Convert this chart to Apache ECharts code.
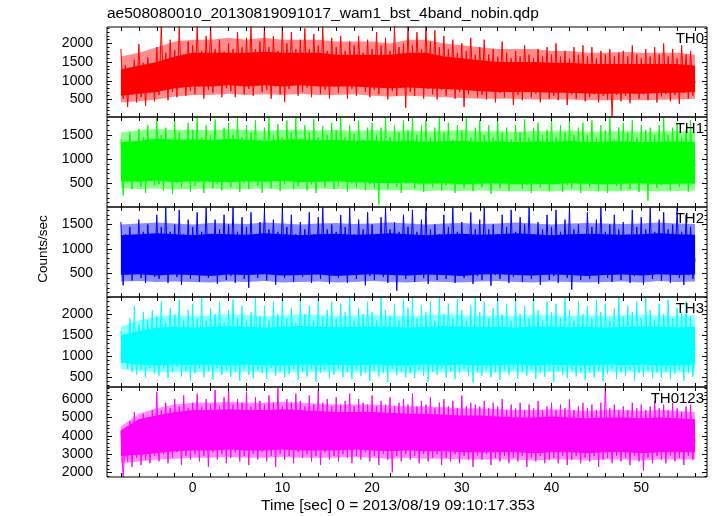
<!DOCTYPE html>
<html><head><meta charset="utf-8">
<script src="https://cdn.jsdelivr.net/npm/echarts@6/dist/echarts.min.js"></script>
<style>html,body{margin:0;padding:0;background:#fff}#c{width:717px;height:516px}</style>
</head><body><div id="c"></div>
<script>
const titleText = 'ae508080010_20130819091017_wam1_bst_4band_nobin.qdp';
const xTitle = 'Time [sec] 0 = 2013/08/19 09:10:17.353';
const yTitle = 'Counts/sec';
const panelNames = ['TH0', 'TH1', 'TH2', 'TH3', 'TH0123'];
const panelColors = ['#ff0000', '#00ff00', '#0000ff', '#00ffff', '#ff00ff'];
const tStart = -8.0;
const binSize = 0.25;
const bandStep = 2.0;
const xMin = -9.55, xMax = 57.33;
const xTickValues = [-8,-6,-4,-2,0,2,4,6,8,10,12,14,16,18,20,22,24,26,28,30,32,34,36,38,40,42,44,46,48,50,52,54,56];
const xLabelValues = [0, 10, 20, 30, 40, 50];
const yRanges = [[30, 2440], [10, 1870], [10, 1860], [270, 2410], [1750, 6660]];
const yMajorTicks = [[500,1000,1500,2000],[500,1000,1500],[500,1000,1500],[500,1000,1500,2000],[2000,3000,4000,5000,6000]];
const yMinorStep = [100, 100, 100, 100, 200];

// light-curve samples (counts/sec), one every binSize seconds from tStart
const th0 = [
1850,520,1420,300,1350,640,1560,420,1980,560,1480,330,1620,700,1400,450,
1900,620,2450,780,1750,480,2100,700,1820,560,2450,820,1700,600,2050,720,
1950,650,2450,850,1800,520,2200,760,2450,680,1850,900,2100,560,1780,800,
2000,720,1850,560,2300,880,1900,640,2150,780,2450,600,1850,900,2050,700,
2450,760,1900,520,2200,850,1800,640,2450,430,2000,780,2300,900,1850,600,
2100,700,2400,820,1850,560,2250,880,1950,650,2450,760,1800,520,2150,840,
1900,680,2200,860,1800,520,2050,780,1950,600,2200,900,1750,700,2100,560,
1850,760,2300,640,1950,850,2150,500,1800,720,2450,600,1900,820,2000,280,
2450,700,1950,600,2300,850,1850,520,2450,780,2050,640,2350,500,1900,760,
2200,600,1850,780,2100,520,1750,700,2000,300,1800,640,2150,760,1700,560,
1900,620,2100,500,1700,740,1850,420,1650,680,2050,560,1750,700,1600,350,
1800,620,1650,480,1950,700,1700,560,1600,660,1850,420,1650,720,1900,520,
1700,600,2000,480,1650,700,1800,350,1600,640,1900,520,1700,680,1950,450,
1650,560,1900,640,1600,420,1800,600,1700,500,1850,40,1650,620,1750,450,
1800,600,1650,400,1950,660,1700,520,1600,640,1850,480,1650,700,1900,420,
1700,580,2000,650,1650,450,1850,620,1600,380,1950,680,1700,520,1800,600,
1000];
const th1 = [
1420,250,1300,520,1550,380,1350,600,1620,420,1450,300,1700,550,1400,450,
1850,480,1500,350,1650,560,1400,280,1800,500,1550,420,1380,600,1750,330,
1600,450,1850,520,1450,300,1700,580,1500,400,1820,480,1400,350,1650,560,
1750,420,1500,600,1850,320,1450,500,1700,380,1550,560,1800,450,1400,300,
1650,520,1850,400,1500,580,1720,340,1450,480,1800,560,1550,380,1850,450,
1400,600,1700,350,1550,480,1820,300,1450,560,1680,420,1500,520,1750,380,
1600,450,1850,560,1450,330,1700,500,1520,420,1800,580,1400,360,1650,480,
1750,400,1500,60,1650,520,1850,380,1450,560,1700,420,1550,300,1800,500,
1600,550,1850,400,1500,480,1700,320,1800,560,1450,420,1650,500,1850,350,
1550,460,1750,580,1400,300,1700,500,1600,400,1850,560,1450,340,1650,520,
1800,420,1500,560,1700,280,1450,500,1850,400,1550,580,1650,350,1400,480,
1700,520,1550,380,1820,460,1450,300,1650,560,1750,420,1500,500,1600,340,
1850,480,1450,560,1700,320,1550,460,1800,400,1500,580,1650,300,1750,500,
1500,420,1800,540,1450,350,1700,480,1600,300,1850,520,1400,440,1650,360,
1750,500,1550,380,1800,560,1450,320,1700,480,1600,140,1650,520,1500,400,
1700,460,1850,540,1500,360,1650,500,1750,420,1450,560,1600,330,1800,480,
900];
const th2 = [
1550,250,1300,480,1450,350,1250,560,1600,400,1350,300,1500,520,1280,420,
1700,380,1450,500,1850,300,1350,550,1500,420,1800,260,1300,500,1600,380,
1450,520,1750,320,1350,460,1850,400,1300,560,1600,280,1400,480,1700,360,
1500,440,1850,300,1350,520,1650,380,1450,200,1750,480,1300,400,1550,520,
1800,350,1400,500,1600,260,1350,460,1850,400,1450,540,1700,320,1300,480,
1550,420,1400,560,1750,300,1300,500,1650,380,1850,460,1400,280,1500,520,
1350,400,1700,520,1450,300,1850,460,1300,380,1600,540,1400,250,1750,440,
1500,360,1300,500,1650,420,1850,300,1400,480,1550,140,1350,520,1700,380,
1450,460,1800,320,1350,500,1600,400,1850,280,1400,540,1500,360,1300,460,
1700,380,1450,520,1850,300,1350,460,1550,400,1300,520,1750,280,1400,440,
1600,360,1850,500,1400,240,1500,460,1300,380,1700,520,1450,300,1800,420,
1350,500,1650,320,1500,460,1850,380,1300,540,1550,260,1400,480,1700,360,
1450,440,1800,300,1350,520,1600,400,1850,160,1400,480,1500,360,1300,520,
1750,380,1450,460,1600,280,1850,500,1350,400,1500,320,1700,540,1400,360,
1550,480,1300,300,1800,440,1450,520,1650,260,1400,460,1850,380,1350,500,
1600,340,1750,480,1400,300,1500,520,1850,400,1350,260,1700,460,1450,380,
800];
const th3 = [
1600,850,1500,700,1900,620,2200,560,1750,680,2050,500,1850,720,2100,580,
1950,540,2300,700,1800,480,2150,620,2000,760,2350,520,1850,650,2100,420,
2250,600,1900,700,2400,500,1850,640,2150,450,2000,720,2300,560,1800,680,
2100,520,2350,640,1900,420,2200,700,1850,560,2050,480,2400,660,1950,600,
2200,460,1850,720,2300,540,2000,640,2400,500,1900,580,2150,700,1800,440,
2350,620,2000,520,2200,700,1850,400,2400,600,1950,680,2100,480,2300,560,
1900,700,2250,500,2050,620,2400,460,1850,680,2150,540,2000,600,2300,420,
2050,660,1850,520,2400,600,2100,380,1950,700,2250,560,1850,640,2350,500,
2150,600,2400,480,1900,680,2200,540,2050,400,2300,640,1850,560,2400,700,
2000,500,2250,640,1900,460,2350,600,2100,700,1850,520,2200,380,2400,620,
2050,540,2300,680,1900,500,2150,620,2400,440,2000,660,2250,560,1850,700,
2350,480,2000,620,2200,540,1900,700,2400,460,2100,600,1850,520,2300,660,
2050,400,2250,640,1900,560,2400,480,2100,680,1850,520,2300,600,2000,440,
2200,620,1900,500,2350,660,2050,400,2250,580,1850,700,2150,460,2400,620,
1950,540,2200,680,2050,420,2300,600,1900,520,2400,660,2100,480,1850,620,
2250,500,2000,640,2350,460,1900,580,2150,680,2050,420,2300,600,1950,520,
1200];
const th0123 = [
4270,1750,4000,2600,4800,2300,5300,2800,4900,2400,5200,2700,5000,2500,5400,2900,
6400,2600,5400,3000,5800,2500,5500,2800,6000,3100,5600,2400,6200,2900,5500,2700,
5800,3000,6300,2600,5600,2900,6000,2300,5700,3100,6500,2700,5600,3000,6100,2500,
6600,2800,5700,3100,6000,2600,5800,2900,6400,2400,5600,3000,6100,2700,5900,3100,
5700,2600,6200,2900,5800,2300,6600,3000,5600,2700,6000,2900,5800,2500,6300,3100,
5900,2800,5600,3000,6200,2600,5700,2900,6500,2400,5800,3100,6000,2700,5600,2900,
6100,2600,5700,3000,5900,2800,6300,2500,5600,2900,6000,2700,5800,3100,5700,2600,
6200,2900,5600,2400,5900,3000,5700,2700,6100,2000,5600,2900,5800,2600,6000,3000,
5700,2700,6300,2900,5600,2500,5900,3000,5700,2600,6100,2800,5500,3000,5800,2400,
6000,2800,5600,2600,5900,3000,5500,2500,6200,2900,5600,2700,5800,2300,5700,2900,
5600,2700,5900,3000,5500,2400,5800,2800,5600,2600,6000,2900,5400,2500,5700,2800,
5500,2600,5800,2900,5400,2300,5700,2800,5500,2600,5900,2900,5400,2500,5600,2700,
5800,2800,5400,2500,5700,2900,5500,2400,6000,2700,5400,2900,5600,2500,5800,2800,
5500,2600,5700,2900,5400,2300,5800,2700,6630,2800,5500,2500,5700,2900,5400,2600,
5600,2800,5400,2400,5800,2900,5500,2600,5700,2100,5400,2800,5600,2500,5900,2900,
5500,2700,5700,2500,5400,2900,5800,2600,5500,2800,5300,2400,5600,2900,5700,2700,
3800];

// dense core of each light curve: lower / upper edge, one every bandStep seconds from tStart
const th0CoreLo = [600,650,700,800,850,850,880,850,880,850,880,850,850,850,820,800,820,800,780,760,720,700,700,700,680,680,660,650,660,650,670,680,700];
const th0CoreHi = [1300,1400,1500,1650,1750,1750,1750,1750,1780,1750,1750,1750,1700,1700,1700,1700,1750,1750,1650,1600,1550,1500,1500,1500,1480,1480,1450,1450,1450,1450,1450,1450,1400];
const th1CoreLo = [540,530,550,520,540,530,520,540,530,550,520,530,540,520,510,500,510,490,500,480,490,500,480,490,480,500,490,480,490,500,480,490,500];
const th1CoreHi = [1350,1380,1420,1400,1410,1390,1420,1400,1380,1400,1410,1390,1400,1380,1390,1370,1380,1360,1370,1380,1360,1370,1350,1370,1360,1380,1350,1360,1370,1350,1360,1370,1350];
const th2CoreLo = [460,480,450,470,460,440,470,460,480,450,460,470,440,460,480,460,450,470,460,440,470,480,460,450,470,460,440,460,470,450,480,460,470];
const th2CoreHi = [1280,1300,1320,1300,1280,1310,1300,1290,1320,1300,1280,1300,1310,1290,1300,1320,1300,1280,1300,1310,1290,1300,1320,1300,1280,1300,1310,1300,1290,1300,1320,1300,1290];
const th3CoreLo = [850,800,780,800,790,800,780,800,790,780,800,790,800,780,800,790,780,800,790,800,780,790,800,780,800,790,780,800,790,800,780,790,800];
const th3CoreHi = [1500,1600,1680,1700,1680,1700,1720,1700,1680,1700,1720,1700,1690,1700,1710,1700,1680,1700,1720,1700,1690,1700,1680,1710,1700,1690,1700,1680,1700,1710,1700,1690,1700];
const th0123CoreLo = [2900,2950,3050,3150,3200,3200,3250,3200,3200,3250,3200,3200,3200,3250,3200,3150,3200,3150,3150,3100,3100,3100,3100,3050,3100,3100,3050,3100,3100,3050,3100,3100,3100];
const th0123CoreHi = [4300,4900,5100,5300,5400,5400,5450,5400,5400,5450,5400,5350,5300,5300,5300,5250,5200,5200,5150,5100,5100,5050,5000,5000,5050,5000,4950,5000,5000,4950,5000,4950,4900];

// looser spread around the core (where most of the spikes still reach), same time grid
const th0OuterLo = [420,450,500,580,620,620,650,620,640,620,650,620,620,640,600,580,600,580,560,540,520,520,520,500,500,500,480,480,490,480,490,500,520];
const th0OuterHi = [1650,1750,1900,2050,2100,2100,2150,2100,2150,2100,2100,2100,2050,2050,2050,2000,2100,2100,2000,1950,1900,1850,1850,1850,1800,1800,1750,1750,1780,1750,1750,1750,1700];
const th1OuterLo = [400,380,390,370,380,390,370,380,390,370,380,390,380,370,360,350,360,340,350,340,350,340,330,340,330,350,340,330,340,350,330,340,350];
const th1OuterHi = [1550,1600,1620,1600,1610,1590,1620,1600,1580,1600,1610,1590,1600,1580,1600,1580,1590,1570,1580,1600,1570,1580,1560,1580,1570,1590,1560,1570,1580,1560,1570,1580,1560];
const th2OuterLo = [330,340,320,330,320,310,330,320,340,310,320,330,310,320,340,320,310,330,320,310,330,340,320,310,330,320,310,320,330,310,340,320,330];
const th2OuterHi = [1500,1520,1540,1520,1500,1530,1520,1510,1540,1520,1500,1520,1530,1510,1520,1540,1520,1500,1520,1530,1510,1520,1540,1520,1500,1520,1530,1520,1510,1520,1540,1520,1510];
const th3OuterLo = [700,650,620,630,620,630,610,630,620,610,630,620,630,610,630,620,610,630,620,630,610,620,630,610,630,620,610,630,620,630,610,620,630];
const th3OuterHi = [1700,1850,1950,1980,1950,1970,2000,1980,1950,1970,2000,1980,1960,1970,1990,1970,1950,1970,2000,1980,1960,1970,1950,1990,1970,1960,1980,1950,1970,1990,1970,1960,1970];
const th0123OuterLo = [2500,2600,2700,2750,2800,2800,2850,2800,2800,2850,2800,2800,2800,2850,2800,2750,2800,2750,2750,2700,2700,2700,2700,2650,2700,2700,2650,2700,2700,2650,2700,2700,2700];
const th0123OuterHi = [4500,5200,5500,5700,5800,5800,5850,5800,5800,5850,5800,5750,5700,5700,5700,5650,5600,5600,5550,5500,5500,5450,5400,5400,5450,5400,5350,5400,5400,5350,5400,5350,5300];

const panelValues = [th0, th1, th2, th3, th0123];
const panelCoreLo = [th0CoreLo, th1CoreLo, th2CoreLo, th3CoreLo, th0123CoreLo];
const panelCoreHi = [th0CoreHi, th1CoreHi, th2CoreHi, th3CoreHi, th0123CoreHi];
const panelOuterLo = [th0OuterLo, th1OuterLo, th2OuterLo, th3OuterLo, th0123OuterLo];
const panelOuterHi = [th0OuterHi, th1OuterHi, th2OuterHi, th3OuterHi, th0123OuterHi];

const FONT = '"Liberation Sans", Arial, Helvetica, sans-serif';
const GRID_LEFT = 107, GRID_W = 600, GRID_TOP = 27, GRID_H = 90;

function stepTicks(lo, hi, step) {
  const out = [];
  for (let v = Math.ceil(lo / step) * step; v <= hi; v += step) out.push(v);
  return out;
}
const plain = (v) => String(v);

function bandSeries(p, loArr, hiArr, color, opacity, z) {
  return {type: 'custom', xAxisIndex: 2 * p, yAxisIndex: 4 * p, z: z, silent: true,
    data: loArr.map((v, i) => [tStart + i * bandStep, v, hiArr[i]]),
    encode: {x: 0, y: [1, 2]},
    renderItem: (params, api) => {
      if (params.dataIndex !== 0) return null;
      const pts = [];
      for (let i = 0; i < loArr.length; i++) pts.push(api.coord([tStart + i * bandStep, loArr[i]]));
      for (let i = hiArr.length - 1; i >= 0; i--) pts.push(api.coord([tStart + i * bandStep, hiArr[i]]));
      return {type: 'polygon', shape: {points: pts}, style: {fill: color, opacity: opacity}};
    }};
}

const grids = [], xAxes = [], yAxes = [], series = [], graphics = [];
panelValues.forEach((vals, p) => {
  const top = GRID_TOP + GRID_H * p;
  grids.push({left: GRID_LEFT, top: top, width: GRID_W, height: GRID_H, show: true, z: 5,
    borderColor: '#000', borderWidth: 1, backgroundColor: 'transparent'});
  const isLast = p === panelValues.length - 1;
  ['bottom', 'top'].forEach((pos) => {
    xAxes.push({type: 'value', gridIndex: p, position: pos, min: xMin, max: xMax, z: 6,
      axisLine: {show: false, onZero: false}, splitLine: {show: false},
      axisTick: {show: true, inside: true, length: 4, customValues: xTickValues, lineStyle: {color: '#000', width: 1}},
      axisLabel: {show: isLast && pos === 'bottom', customValues: xLabelValues, margin: 4, formatter: plain,
        color: '#000', fontSize: 14, fontFamily: FONT}});
  });
  const [lo, hi] = yRanges[p];
  ['left', 'right'].forEach((pos) => {
    yAxes.push({type: 'value', gridIndex: p, position: pos, min: lo, max: hi, z: 6,
      axisLine: {show: false, onZero: false}, splitLine: {show: false},
      axisTick: {show: true, inside: true, length: 5, customValues: yMajorTicks[p], lineStyle: {color: '#000', width: 1}},
      axisLabel: {show: pos === 'left', customValues: yMajorTicks[p], margin: 14, formatter: plain,
        color: '#000', fontSize: 14, fontFamily: FONT}});
    yAxes.push({type: 'value', gridIndex: p, position: pos, min: lo, max: hi, z: 6,
      axisLine: {show: false, onZero: false}, splitLine: {show: false},
      axisTick: {show: true, inside: true, length: 2.5, customValues: stepTicks(lo, hi, yMinorStep[p]), lineStyle: {color: '#000', width: 1}},
      axisLabel: {show: false}});
  });
  const col = panelColors[p];
  series.push(bandSeries(p, panelOuterLo[p], panelOuterHi[p], col, 0.45, 1));
  series.push(bandSeries(p, panelCoreLo[p], panelCoreHi[p], col, 1, 2));
  series.push({type: 'line', xAxisIndex: 2 * p, yAxisIndex: 4 * p,
    data: vals.map((v, i) => [tStart + i * binSize, v]),
    showSymbol: false, symbol: 'none', sampling: null, clip: true, z: 3,
    lineStyle: {color: col, width: 1}, itemStyle: {color: col}});
  graphics.push({type: 'text', right: 717 - 704, top: top + 4, z: 100,
    style: {text: panelNames[p], fill: '#000', font: '15px ' + FONT, textAlign: 'right'}});
});

graphics.push({type: 'text', left: 107, top: 6,
  style: {text: titleText, fill: '#000', font: '15.5px ' + FONT}});
graphics.push({type: 'text', x: 398, y: 506,
  style: {text: xTitle, fill: '#000', font: '15.5px ' + FONT, textAlign: 'center', textVerticalAlign: 'middle'}});
graphics.push({type: 'text', x: 43, y: 249, rotation: Math.PI / 2,
  style: {text: yTitle, fill: '#000', font: '13.5px ' + FONT, textAlign: 'center', textVerticalAlign: 'middle'}});

const chart = echarts.init(document.getElementById('c'), null, {renderer: 'canvas'});
chart.setOption({
  animation: false,
  backgroundColor: '#fff',
  grid: grids, xAxis: xAxes, yAxis: yAxes, series: series, graphic: graphics
});
</script></body></html>
